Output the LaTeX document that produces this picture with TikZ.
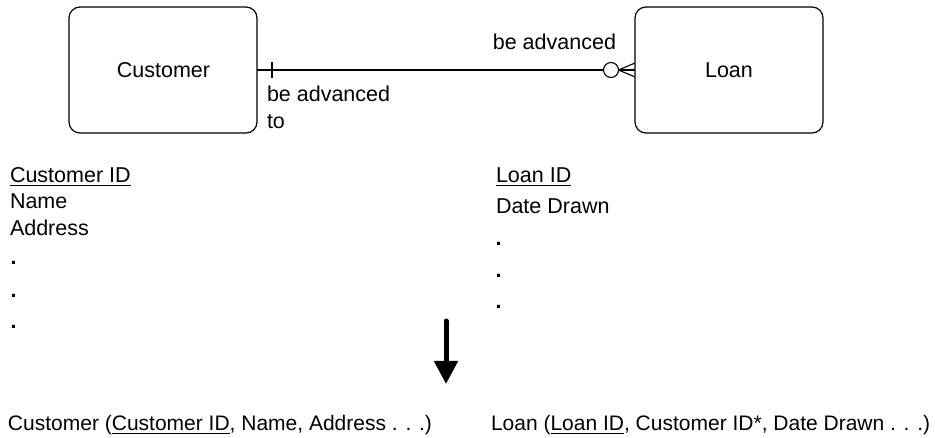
\documentclass[tikz,border=0pt]{standalone}
\usepackage{fontspec}
\setmainfont{Liberation Sans}
\usetikzlibrary{arrows.meta}
\newcommand\myul[1]{\setbox0\hbox{#1}\rlap{\rule[-2.8pt]{\wd0}{1.1pt}}\box0}
\begin{document}
\begin{tikzpicture}[x=1pt,y=-1pt,
  font=\fontsize{21.5}{26}\selectfont,
  every node/.style={inner sep=0pt,outer sep=0pt},
  entity/.style={draw,line width=1.2pt,rounded corners=11pt,minimum width=188pt,minimum height=126pt},
  txt/.style={anchor=base west},
  dotmark/.style={anchor=base west,font=\fontsize{21.5}{26}\selectfont\bfseries},
  reltxt/.style={anchor=base west,font=\fontsize{21}{26}\selectfont},
  link/.style={line width=1.1pt}]
\useasboundingbox (0,0) rectangle (935,438);
% entities
\node[entity] (cust) at (163,70) {};
\node[anchor=base] (custlbl) at (163.5,78) {Customer};
\node[entity] (loan) at (729,70) {};
\node[anchor=base] (loanlbl) at (729,78) {Loan};
% relationship
\node[draw,circle,link,fill=white,minimum size=15pt] (circ) at (611,70) {};
\draw[link] (cust.east) -- (circ.west);
\coordinate (tick) at (272,70);
\draw[link] ([yshift=7.5pt]tick) -- ([yshift=-8pt]tick);
\draw[link] (circ.east) -- ([yshift=7pt]loan.west);
\draw[link] (circ.east) -- (loan.west);
\draw[link] (circ.east) -- ([yshift=-7pt]loan.west);
\node[anchor=base east] (lbltop) at (616,50) {be advanced};
\node[txt] (lblb1) at (267,102) {be advanced};
\node[txt] (lblb2) at (267,129) {to};
% customer attributes
\node[txt] (ca1) at (10,183) {\myul{Customer ID}};
\node[txt] (ca2) at (10,209) {Name};
\node[txt] (ca3) at (10,236) {Address};
\node[dotmark] (cd1) at (10.5,265) {.};
\node[dotmark] (cd2) at (10.5,298) {.};
\node[dotmark] (cd3) at (10.5,329) {.};
% loan attributes
\node[txt] (la1) at (496,183) {\myul{Loan ID}};
\node[txt] (la2) at (496,214) {Date Drawn};
\node[dotmark] (ld1) at (495.5,246) {.};
\node[dotmark] (ld2) at (495.5,278) {.};
\node[dotmark] (ld3) at (495.5,309) {.};
% transform arrow
\coordinate (arrtop) at (446,321);
\coordinate (arrtip) at (446,384);
\draw[line width=5pt,line cap=round,-{Triangle[width=23pt,length=23pt]}] (arrtop) -- (arrtip);
% relations
\node[reltxt] (rel1) at (8,431) {Customer (\myul{Customer ID}, Name, Address . . .)};
\node[reltxt] (rel2) at (491,431) {Loan (\myul{Loan ID}, Customer ID*, Date Drawn . . .)};
\end{tikzpicture}
\end{document}
